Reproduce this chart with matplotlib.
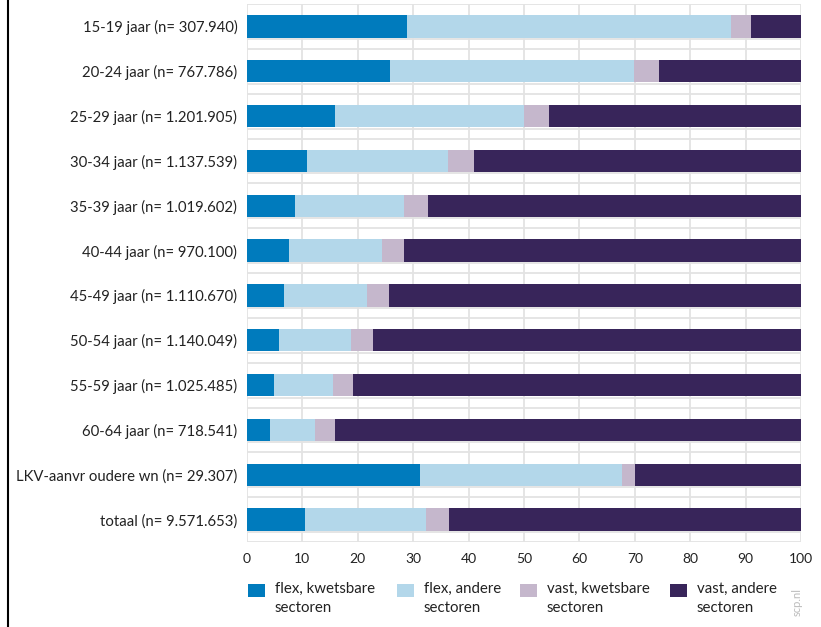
import matplotlib
matplotlib.use('Agg')
import matplotlib.pyplot as plt
import matplotlib.patches as patches
from matplotlib.lines import Line2D
import numpy as np

plt.rcParams['font.family'] = ['Lato', 'DejaVu Sans']

# categorieen (van boven naar beneden)
labels = ['15-19 jaar (n= 307.940)', '20-24 jaar (n= 767.786)', '25-29 jaar (n= 1.201.905)',
          '30-34 jaar (n= 1.137.539)', '35-39 jaar (n= 1.019.602)', '40-44 jaar (n= 970.100)',
          '45-49 jaar (n= 1.110.670)', '50-54 jaar (n= 1.140.049)', '55-59 jaar (n= 1.025.485)',
          '60-64 jaar (n= 718.541)', 'LKV-aanvr oudere wn (n= 29.307)', 'totaal (n= 9.571.653)']

# percentages per groep
flex_kwetsbaar = [28.8, 25.8, 15.8, 10.8, 8.7, 7.6, 6.7, 5.8, 4.9, 4.2, 31.3, 10.4]
flex_andere    = [58.6, 44.0, 34.2, 25.4, 19.6, 16.7, 15.0, 13.0, 10.7, 8.1, 36.4, 22.0]
vast_kwetsbaar = [3.6, 4.6, 4.6, 4.7, 4.4, 4.1, 3.9, 3.9, 3.5, 3.5, 2.3, 4.1]
vast_andere    = [9.0, 25.6, 45.4, 59.1, 67.3, 71.6, 74.4, 77.3, 80.9, 84.2, 30.0, 63.5]

series_names = ['flex, kwetsbare\nsectoren', 'flex, andere\nsectoren',
                'vast, kwetsbare\nsectoren', 'vast, andere\nsectoren']
kleuren = ['#007BBD', '#B3D7EA', '#C5B7CC', '#38255A']
xticks = [0, 10, 20, 30, 40, 50, 60, 70, 80, 90, 100]

fig = plt.figure(figsize=(8.21, 6.27), dpi=100, facecolor='w')
ax = fig.add_axes([247/821, 85/627, 554/821, 538/627])

y = np.arange(len(labels))
gridkleur = '#E3E3E3'

# raster
for xv in xticks:
    ax.axvline(xv, color=gridkleur, lw=1.3, zorder=0)
for yi in y:
    ax.axhline(yi - 0.5, color=gridkleur, lw=1.3, zorder=0)
    ax.axhline(yi + 0.28, color=gridkleur, lw=1.3, zorder=0)
ax.axhline(len(labels) - 0.5, color=gridkleur, lw=1.3, zorder=0)

left = np.zeros(len(labels))
for vals, kleur in zip([flex_kwetsbaar, flex_andere, vast_kwetsbaar, vast_andere], kleuren):
    ax.barh(y, vals, left=left, height=0.5, color=kleur, zorder=2)
    left = left + np.array(vals)

ax.set_xlim(0, 100)
ax.set_ylim(len(labels) - 0.5, -0.5)
ax.set_yticks(y)
ax.set_yticklabels(labels, fontsize=10.7, color='#222222')
ax.set_xticks(xticks)
ax.set_xticklabels([str(v) for v in xticks], fontsize=10, color='#222222')
ax.tick_params(axis='both', length=0)
ax.tick_params(axis='y', pad=7)
ax.tick_params(axis='x', pad=8)
for sp in ax.spines.values():
    sp.set_visible(False)

# legenda
leg_x = [248, 397, 520, 670]
for naam, kleur, lx in zip(series_names, kleuren, leg_x):
    fig.patches.append(patches.Rectangle((lx/821, 1 - 597/627), 17/821, 13/627,
                                         transform=fig.transFigure, facecolor=kleur,
                                         edgecolor='none'))
    fig.text((lx + 27)/821, 1 - 582/627, naam, fontsize=10.8, color='#222222',
             va='top', ha='left', linespacing=1.45)

fig.text(797/821, 1 - 602/627, 'scp.nl', rotation=90, fontsize=8, color='#BBBBBB',
         ha='center', va='center')

# zwarte lijn links
fig.lines.append(Line2D([7.5/821, 7.5/821], [0, 1], transform=fig.transFigure,
                        color='black', lw=1.5))

fig.savefig('out.png', dpi=100)
